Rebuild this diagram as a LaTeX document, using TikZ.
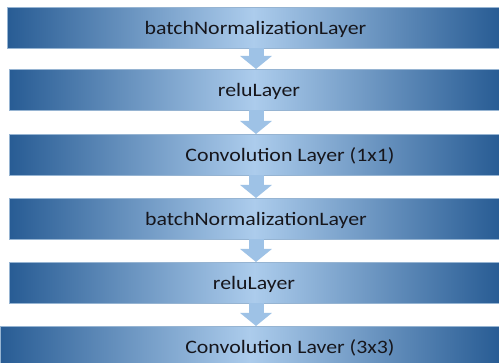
\documentclass[tikz,border=0pt]{standalone}
\usepackage{fontspec}
\setmainfont{Carlito}
\usetikzlibrary{arrows.meta}
\definecolor{bardark}{RGB}{40,92,148}
\definecolor{barlight}{RGB}{172,204,236}
\definecolor{flowarrow}{RGB}{158,194,230}
\definecolor{bartext}{RGB}{22,22,28}
\definecolor{baredge}{RGB}{150,180,210}
\tikzset{
  layerbar/.style={draw=baredge, line width=0.6pt, inner sep=0pt,
    minimum height=41pt, left color=bardark, right color=bardark,
    middle color=barlight, anchor=north west},
  layerlabel/.style={font=\fontsize{19}{22}\selectfont, text=bartext,
    xscale=1.15, inner sep=0pt, anchor=base},
  flow/.style={flowarrow, line width=15pt,
    -{Triangle[width=31pt,length=13pt]}, shorten <=-0.5pt}
}
\begin{document}
\begin{tikzpicture}[x=1pt,y=-1pt]
  \useasboundingbox (0,0) rectangle (499,363);
  \clip (0,0) rectangle (499,363);
  \fill[white] (0,0) rectangle (499,363);
  % layer bars
  \node[layerbar, minimum width=492pt] (b1) at (7,7)   {};
  \node[layerbar, minimum width=490pt] (b2) at (9,69)  {};
  \node[layerbar, minimum width=490pt] (b3) at (9,134) {};
  \node[layerbar, minimum width=490pt] (b4) at (9,198) {};
  \node[layerbar, minimum width=490pt] (b5) at (9,262) {};
  \node[layerbar, minimum width=499pt] (b6) at (0,326) {};
  % labels
  \node[layerlabel] (t1) at (255.5,35)  {batchNormalizationLayer};
  \node[layerlabel] (t2) at (259,97)    {reluLayer};
  \node[layerlabel] (t3) at (290,162)   {Convolution Layer (1x1)};
  \node[layerlabel] (t4) at (256,226)   {batchNormalizationLayer};
  \node[layerlabel] (t5) at (254,290)   {reluLayer};
  \node[layerlabel] (t6) at (290,354)   {Convolution Laver (3x3)};
  % flow arrows
  \coordinate (ax) at (256,0);
  \draw[flow] (b1.south -| ax) -- (b2.north -| ax);
  \draw[flow] (b2.south -| ax) -- (b3.north -| ax);
  \draw[flow] (b3.south -| ax) -- (b4.north -| ax);
  \draw[flow] (b4.south -| ax) -- (b5.north -| ax);
  \draw[flow] (b5.south -| ax) -- (b6.north -| ax);
\end{tikzpicture}
\end{document}
